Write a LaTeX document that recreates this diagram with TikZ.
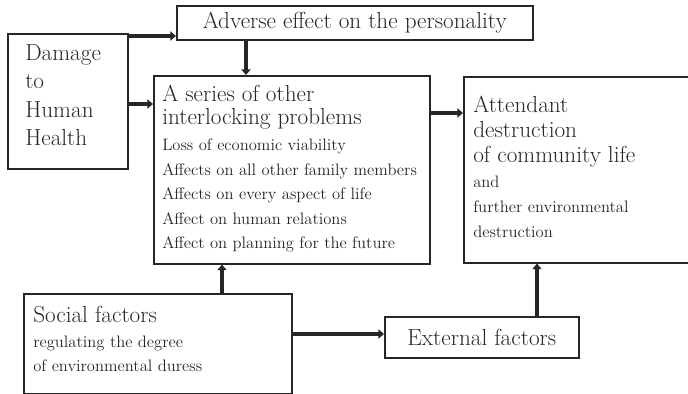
\documentclass[tikz,border=0pt]{standalone}
\usepackage{tikz}
\usetikzlibrary{arrows.meta,positioning,calc}

\begin{document}
\begin{tikzpicture}[
    box/.style={draw=black!85,line width=1.1pt,inner sep=0pt,anchor=north west},
    big/.style={font=\fontsize{16.5}{17}\selectfont,text=black!85,align=left,inner sep=0pt,anchor=base west},
    small/.style={font=\fontsize{11.8}{17.4}\selectfont,text=black!85,align=left,inner sep=0pt,anchor=base west},
    arr/.style={draw=black!85,line width=2.2pt,-{Triangle[length=4pt,width=6.5pt]}}]

  \useasboundingbox (0,0) rectangle (17.2,-9.85);

  \node[box,minimum width=3cm,minimum height=3.375cm] (damage) at (0.175,-0.825) {};
  \node[big,font=\fontsize{16.5}{20.3}\selectfont] (damagetxt) at (0.625,-3.65) {Damage\\to\\Human\\Health};

  \node[box,minimum width=8.9cm,minimum height=0.85cm,text=black!85,
        font=\fontsize{16.5}{20}\selectfont] (adverse) at (4.4,-0.125) {Adverse effect on the personality};

  \node[box,minimum width=6.9cm,minimum height=4.7cm] (series) at (3.825,-1.875) {};
  \node[big] (seriestitle) at (4.05,-3.125) {A series of other\\interlocking problems};
  \node[small] (seriesitems) at (4.05,-6.2125) {Loss of economic viability\\
    Affects on all other family members\\Affects on every aspect of life\\
    Affect on human relations\\Affect on planning for the future};

  \node[box,minimum width=5.7cm,minimum height=4.65cm] (attendant) at (11.575,-1.9) {};
  \node[big,font=\fontsize{16.5}{18.1}\selectfont] (attendanttitle) at (11.825,-4.075)
    {Attendant\\destruction\\of community life};
  \node[small,font=\fontsize{11.8}{18}\selectfont] (attendantitems) at (11.825,-5.95)
    {and\\further environmental\\destruction};

  \node[box,minimum width=6.7cm,minimum height=2.5cm] (social) at (0.575,-7.325) {};
  \node[big] (socialtitle) at (0.825,-8.075) {Social factors};
  \node[small,font=\fontsize{11.8}{17.7}\selectfont] (socialitems) at (0.825,-9.3)
    {regulating the degree\\of environmental duress};

  \node[box,minimum width=4.85cm,minimum height=1.025cm,text=black!85,
        font=\fontsize{16.5}{20}\selectfont] (external) at (9.6,-7.9) {External factors};

  \draw[arr] (damage.east |- 0,-0.9) -- (adverse.west |- 0,-0.9);
  \draw[arr] (damage.east |- 0,-2.6) -- (series.west |- 0,-2.6);
  \draw[arr] (adverse.south -| 6.15,0) -- (series.north -| 6.15,0);
  \draw[arr] (series.east |- 0,-2.825) -- (attendant.west |- 0,-2.825);
  \draw[arr] (social.north -| 5.55,0) -- (series.south -| 5.55,0);
  \draw[arr] (social.east |- 0,-8.35) -- (external.west |- 0,-8.35);
  \draw[arr] (external.north -| 13.425,0) -- (attendant.south -| 13.425,0);
\end{tikzpicture}
\end{document}
